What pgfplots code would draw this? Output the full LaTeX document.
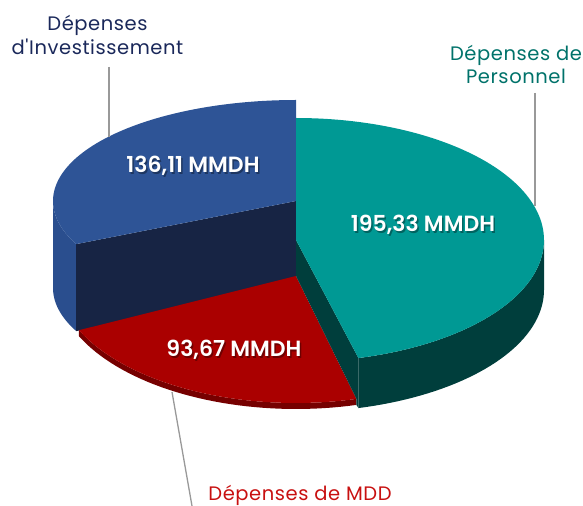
\documentclass[border=0pt]{standalone}
\usepackage{pgfplots}
\pgfplotsset{compat=1.18}
\usepgfplotslibrary{fillbetween}
\usepackage{fontspec}
\setmainfont{Poppins}[BoldFont={Poppins SemiBold}]
\newfontfamily\labfont{Poppins}[LetterSpace=3]

\definecolor{ttop}{RGB}{0,153,148}
\definecolor{tdark}{RGB}{0,62,60}
\definecolor{btop}{RGB}{46,84,150}
\definecolor{bside}{RGB}{42,78,142}
\definecolor{navy}{RGB}{23,36,68}
\definecolor{rtop}{RGB}{170,0,0}
\definecolor{rdark}{RGB}{118,0,0}
\definecolor{labteal}{RGB}{0,114,106}
\definecolor{labnavy}{RGB}{26,40,90}
\definecolor{labred}{RGB}{200,16,16}

% data (MMDH)
\def\vP{195.33}% Personnel
\def\vM{93.67}% MDD
\def\vI{136.11}% Investissement
\pgfmathsetmacro{\T}{\vP+\vM+\vI}
\pgfmathsetmacro{\aP}{90-360*(\vP/\T)}
\pgfmathsetmacro{\aI}{90+360*(\vI/\T)}
\pgfmathsetmacro{\aM}{\aP+360}
% cut-face corners
\pgfmathsetmacro{\bx}{296+243*cos(\aI)}
\pgfmathsetmacro{\by}{201-101*sin(\aI)}
\pgfmathsetmacro{\byd}{\by+87}
\pgfmathsetmacro{\tx}{296+248*cos(\aP)}
\pgfmathsetmacro{\ty}{240-122*sin(\aP)}
\pgfmathsetmacro{\tyd}{\ty+50}
\pgfmathsetmacro{\rmx}{296+240*cos(\aM)}
\pgfmathsetmacro{\rmy}{276-127*sin(\aM)}
\pgfmathsetmacro{\rmyd}{\rmy+6}

\begin{document}
\begin{tikzpicture}
\begin{axis}[scale only axis, width=583bp, height=506bp,
  xmin=0, xmax=583, ymin=0, ymax=506, y dir=reverse,
  hide axis, clip=false]
% ---- Investissement (blue)
\addplot[draw=none, forget plot, name path=bt, domain=180:\aI, samples=30] ({296+243*cos(x)},{201-101*sin(x)});
\addplot[draw=none, forget plot, name path=bb, domain=180:\aI, samples=30] ({296+243*cos(x)},{288-101*sin(x)});
\addplot[fill=bside, draw=none, forget plot] fill between[of=bt and bb];
\addplot[fill=navy, draw=none, forget plot] coordinates {(296,201) (\bx,\by) (\bx,\byd) (296,288)} -- cycle;
\addplot[fill=btop, draw=none, forget plot, domain=90:\aI, samples=80] ({296+243*cos(x)},{201-101*sin(x)}) -- (axis cs:296,201) -- cycle;
% ---- MDD (red)
\addplot[draw=none, forget plot, name path=rt, domain=\aI:\aM, samples=40] ({296+240*cos(x)},{276-127*sin(x)});
\addplot[draw=none, forget plot, name path=rb, domain=\aI:\aM, samples=40] ({296+240*cos(x)},{282-127*sin(x)});
\addplot[fill=rdark, draw=none, forget plot] fill between[of=rt and rb];
\addplot[fill=rtop, draw=none, forget plot, domain=\aI:\aM, samples=80] ({296+240*cos(x)},{276-127*sin(x)}) -- (axis cs:296,276) -- cycle;
% ---- Personnel (teal)
\addplot[draw=none, forget plot, name path=tt, domain=\aP:0, samples=40] ({296+248*cos(x)},{240-122*sin(x)});
\addplot[draw=none, forget plot, name path=tb, domain=\aP:0, samples=40] ({296+248*cos(x)},{290-122*sin(x)});
\addplot[fill=tdark, draw=none, forget plot] fill between[of=tt and tb];
\addplot[fill=tdark, draw=none, forget plot] coordinates {(296,240) (\tx,\ty) (\tx,\tyd) (\rmx,\rmyd) (\rmx,\rmy) (296,276)} -- cycle;
\addplot[fill=ttop, draw=none, forget plot, domain=\aP:90, samples=100] ({296+248*cos(x)},{240-122*sin(x)}) -- (axis cs:296,240) -- cycle;
% ---- leader lines
\addplot[black!40, line width=1.3bp, forget plot] coordinates {(109,67) (109,137)};
\addplot[black!40, line width=1.3bp, forget plot] coordinates {(535,93) (535,206)};
\addplot[black!40, line width=1.3bp, forget plot] coordinates {(172,392) (192,506)};
% ---- category labels
\begin{scope}[every node/.style={anchor=base, inner sep=0pt, font=\labfont\fontsize{19.5bp}{24bp}\selectfont}]
\node[text=labnavy] at (axis cs:97.5,31) {Dépenses};
\node[text=labnavy] at (axis cs:97.5,55) {d'Investissement};
\node[text=labteal] at (axis cs:516,61) {Dépenses de};
\node[text=labteal] at (axis cs:516,84) {Personnel};
\node[text=labred] at (axis cs:300,500) {Dépenses de MDD};
\end{scope}
% ---- value labels
\begin{scope}[every node/.style={anchor=base, inner sep=0pt, font=\fontsize{22bp}{26bp}\selectfont\bfseries}]
\node[text=black, opacity=0.35] at (axis cs:194.5,174.5) {136,11 MMDH};
\node[text=white] at (axis cs:193,173) {136,11 MMDH};
\node[text=black, opacity=0.35] at (axis cs:424.5,233.5) {195,33 MMDH};
\node[text=white] at (axis cs:423,232) {195,33 MMDH};
\node[text=black, opacity=0.35] at (axis cs:235.5,358.5) {93,67 MMDH};
\node[text=white] at (axis cs:234,357) {93,67 MMDH};
\end{scope}
\end{axis}
\pgfresetboundingbox
\path[use as bounding box] (0,0) rectangle (583bp,506bp);
\end{tikzpicture}
\end{document}
